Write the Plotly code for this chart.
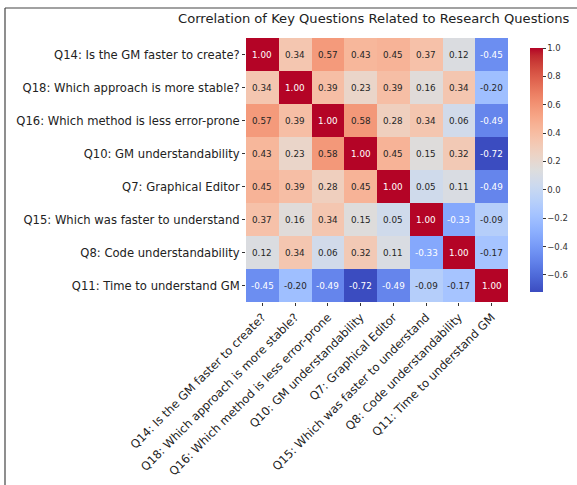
import plotly.graph_objects as go

labels = [
    "Q14: Is the GM faster to create?",
    "Q18: Which approach is more stable?",
    "Q16: Which method is less error-prone",
    "Q10: GM understandability",
    "Q7: Graphical Editor",
    "Q15: Which was faster to understand",
    "Q8: Code understandability",
    "Q11: Time to understand GM",
]

row_q14 = [1.00, 0.34, 0.57, 0.43, 0.45, 0.37, 0.12, -0.45]
row_q18 = [0.34, 1.00, 0.39, 0.23, 0.39, 0.16, 0.34, -0.20]
row_q16 = [0.57, 0.39, 1.00, 0.58, 0.28, 0.34, 0.06, -0.49]
row_q10 = [0.43, 0.23, 0.58, 1.00, 0.45, 0.15, 0.32, -0.72]
row_q7 = [0.45, 0.39, 0.28, 0.45, 1.00, 0.05, 0.11, -0.49]
row_q15 = [0.37, 0.16, 0.34, 0.15, 0.05, 1.00, -0.33, -0.09]
row_q8 = [0.12, 0.34, 0.06, 0.32, 0.11, -0.33, 1.00, -0.17]
row_q11 = [-0.45, -0.20, -0.49, -0.72, -0.49, -0.09, -0.17, 1.00]

z = [row_q14, row_q18, row_q16, row_q10, row_q7, row_q15, row_q8, row_q11]

cbar_ticks = [-0.6, -0.4, -0.2, 0.0, 0.2, 0.4, 0.6, 0.8, 1.0]

coolwarm_rgb = [
    (59, 76, 192), (68, 90, 204), (77, 104, 215), (87, 117, 225), (98, 130, 234),
    (108, 142, 241), (119, 154, 247), (130, 165, 251), (141, 176, 254), (152, 185, 255),
    (163, 194, 255), (174, 201, 253), (184, 208, 249), (194, 213, 244), (204, 217, 238),
    (213, 219, 230), (221, 221, 221), (229, 216, 209), (236, 211, 197), (241, 204, 185),
    (245, 196, 173), (247, 187, 160), (247, 177, 148), (247, 166, 135), (244, 154, 123),
    (241, 141, 111), (236, 127, 99), (229, 112, 88), (222, 96, 77), (213, 80, 66),
    (203, 62, 56), (192, 40, 47), (180, 4, 38),
]
n = len(coolwarm_rgb)
colorscale = [[i / (n - 1), "rgb(%d,%d,%d)" % c] for i, c in enumerate(coolwarm_rgb)]

vmin = min(min(r) for r in z)
vmax = max(max(r) for r in z)

W, H = 577, 485
L, R, T, B = 246, 69, 38, 183
pw = W - L - R
ph = H - T - B


def px_x(px):
    return (px - L) / pw


def px_y(py):
    return (H - B - py) / ph


fig = go.Figure()
fig.add_trace(go.Heatmap(
    z=z, x=labels, y=labels,
    colorscale=colorscale, zmin=vmin, zmax=vmax,
    xgap=0, ygap=0,
    colorbar=dict(
        x=px_x(520), xanchor="left", y=0.5, yanchor="middle",
        len=1.0, lenmode="fraction", thickness=13, outlinewidth=0,
        tickvals=cbar_ticks, tickformat=".1f",
        ticks="outside", ticklen=3, tickcolor="#333",
        tickfont=dict(family="DejaVu Sans", size=8.5, color="#333"),
    ),
    hoverongaps=False,
))


def norm(v):
    return (v - vmin) / (vmax - vmin)


def interp_color(t):
    pos = t * (n - 1)
    i = min(int(pos), n - 2)
    f = pos - i
    a, b = coolwarm_rgb[i], coolwarm_rgb[i + 1]
    return [(a[k] + (b[k] - a[k]) * f) / 255 for k in range(3)]


def lum(c):
    out = []
    for v in c:
        out.append(v / 12.92 if v <= 0.03928 else ((v + 0.055) / 1.055) ** 2.4)
    return 0.2126 * out[0] + 0.7152 * out[1] + 0.0722 * out[2]


annotations = []
for i, rl in enumerate(labels):
    for j, cl in enumerate(labels):
        v = z[i][j]
        col = "white" if lum(interp_color(norm(v))) < 0.408 else "#262626"
        annotations.append(dict(
            x=cl, y=rl, xref="x", yref="y", text="%.2f" % v, showarrow=False,
            font=dict(family="DejaVu Sans", size=8.8, color=col),
        ))

annotations.append(dict(
    x=px_x(374), y=px_y(18), xref="paper", yref="paper",
    text="Correlation of Key Questions Related to Research Questions",
    showarrow=False, xanchor="center", yanchor="middle",
    font=dict(family="DejaVu Sans", size=13.1, color="#222"),
))

fig.update_layout(
    width=W, height=H,
    margin=dict(l=L, r=R, t=T, b=B, pad=0, autoexpand=False),
    paper_bgcolor="white", plot_bgcolor="white",
    annotations=annotations,
    shapes=[
        dict(type="line", xref="paper", yref="paper",
             x0=px_x(5), x1=px_x(5), y0=px_y(8), y1=px_y(485), line=dict(color="#444", width=1.2)),
        dict(type="line", xref="paper", yref="paper",
             x0=px_x(5), x1=px_x(577), y0=px_y(8), y1=px_y(8), line=dict(color="#444", width=1.2)),
    ],
    xaxis=dict(
        tickangle=-45, ticks="outside", ticklen=3, tickcolor="#333",
        tickfont=dict(family="DejaVu Sans", size=11.6, color="#222"),
        showgrid=False, zeroline=False, showline=False, automargin=False,
        categoryorder="array", categoryarray=labels,
    ),
    yaxis=dict(
        autorange="reversed", ticks="outside", ticklen=3, tickcolor="#333",
        tickfont=dict(family="DejaVu Sans", size=11.6, color="#222"),
        showgrid=False, zeroline=False, showline=False, automargin=False,
        categoryorder="array", categoryarray=labels,
    ),
)

fig.write_html("out.html", config={"displayModeBar": False},
               post_script="document.body.style.margin='0px';")
